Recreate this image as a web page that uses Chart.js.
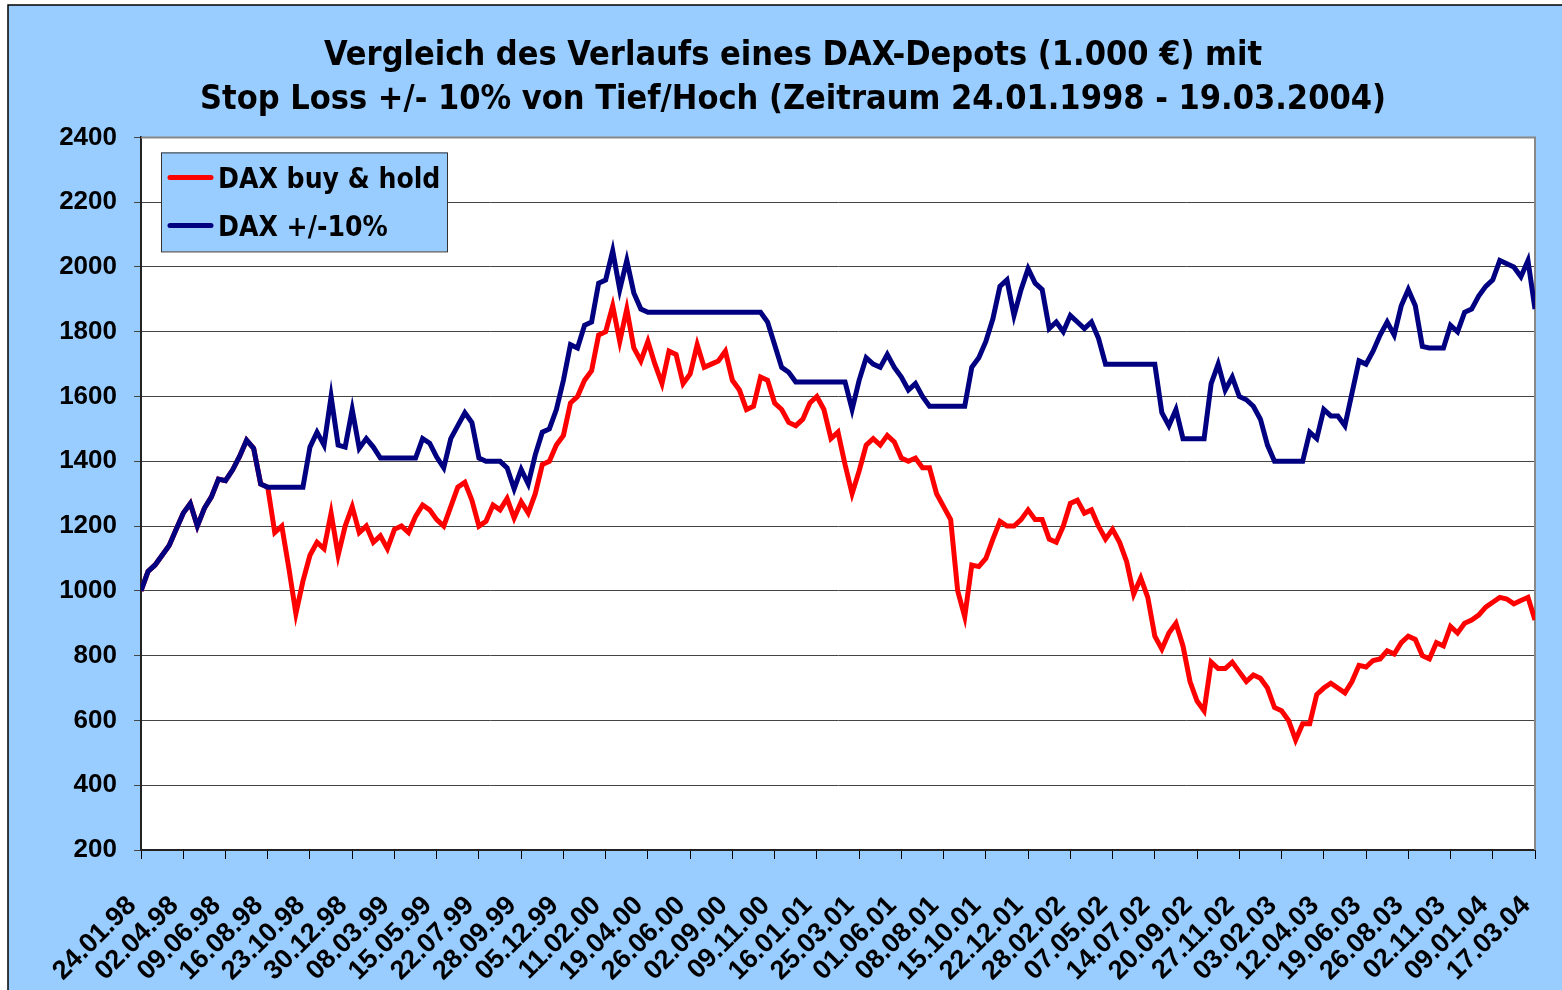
<!DOCTYPE html>
<html>
<head>
<meta charset="utf-8">
<script src="https://cdn.jsdelivr.net/npm/chart.js@4.4.0/dist/chart.umd.min.js"></script>
<style>
  html, body { margin: 0; padding: 0; background: #fff; }
</style>
</head>
<body>
<canvas id="dax-chart" width="1562" height="990"></canvas>
<script>
// one value roughly every 8 trading days, 6 values between two date labels
const POINTS_PER_LABEL = 6;

const tickLabels = [
    '24.01.98', '02.04.98', '09.06.98', '16.08.98', '23.10.98', '30.12.98',
    '08.03.99', '15.05.99', '22.07.99', '28.09.99', '05.12.99', '11.02.00',
    '19.04.00', '26.06.00', '02.09.00', '09.11.00', '16.01.01', '25.03.01',
    '01.06.01', '08.08.01', '15.10.01', '22.12.01', '28.02.02', '07.05.02',
    '14.07.02', '20.09.02', '27.11.02', '03.02.03', '12.04.03', '19.06.03',
    '26.08.03', '02.11.03', '09.01.04', '17.03.04'
];

const buyHold = [
    1000, 1060, 1080, 1110, 1140, 1190, 1240, 1270, 1200, 1255,
    1290, 1345, 1340, 1373, 1415, 1465, 1440, 1330, 1320, 1180,
    1200, 1070, 930, 1030, 1110, 1150, 1130, 1240, 1110, 1200,
    1260, 1180, 1200, 1150, 1170, 1130, 1190, 1200, 1180, 1230,
    1265, 1250, 1220, 1200, 1260, 1320, 1335, 1280, 1200, 1215,
    1265, 1250, 1285, 1225, 1275, 1240, 1300, 1390, 1400, 1450,
    1480, 1580, 1600, 1650, 1680, 1790, 1800, 1880, 1770, 1870,
    1750, 1710, 1770, 1700, 1640, 1740, 1730, 1640, 1670, 1760,
    1690, 1700, 1710, 1740, 1650, 1620, 1560, 1570, 1660, 1650,
    1580, 1560, 1520, 1510, 1530, 1580, 1600, 1560, 1470, 1490,
    1390, 1300, 1370, 1450, 1470, 1450, 1480, 1460, 1410, 1400,
    1410, 1380, 1380, 1300, 1260, 1220, 1000, 920, 1080, 1075,
    1100, 1160, 1215, 1200, 1200, 1220, 1250, 1220, 1220, 1160,
    1150, 1200, 1270, 1280, 1240, 1250, 1200, 1160, 1190, 1150,
    1090, 990, 1040, 980, 860, 820, 870, 900, 830, 720,
    660, 630, 780, 760, 760, 780, 750, 720, 740, 730,
    700, 640, 630, 600, 540, 590, 590, 680, 700, 715,
    700, 685, 720, 770, 765, 785, 790, 815, 805, 840,
    860, 850, 800, 790, 840, 830, 890, 870, 900, 910,
    925, 950, 965, 980, 975, 960, 970, 980, 910
];

const stopLoss = [
    1000, 1060, 1080, 1110, 1140, 1190, 1240, 1270, 1200, 1255,
    1290, 1345, 1340, 1373, 1415, 1465, 1440, 1330, 1320, 1320,
    1320, 1320, 1320, 1320, 1444, 1490, 1450, 1600, 1450, 1444,
    1560, 1440, 1470, 1444, 1410, 1410, 1410, 1410, 1410, 1410,
    1470, 1456, 1413, 1380, 1470, 1510, 1550, 1520, 1410, 1400,
    1400, 1400, 1380, 1315, 1375, 1330, 1420, 1490, 1500, 1560,
    1650, 1760, 1750, 1820, 1830, 1950, 1960, 2050, 1930, 2020,
    1920, 1870, 1860, 1860, 1860, 1860, 1860, 1860, 1860, 1860,
    1860, 1860, 1860, 1860, 1860, 1860, 1860, 1860, 1860, 1830,
    1760, 1690, 1675, 1645, 1645, 1645, 1645, 1645, 1645, 1645,
    1645, 1560, 1650, 1720, 1700, 1690, 1730, 1690, 1660, 1620,
    1640, 1600, 1570, 1570, 1570, 1570, 1570, 1570, 1690, 1720,
    1770, 1840, 1940, 1960, 1850, 1930, 1995, 1950, 1930, 1810,
    1830, 1800, 1850, 1830, 1810, 1830, 1780, 1700, 1700, 1700,
    1700, 1700, 1700, 1700, 1700, 1550, 1510, 1560, 1470, 1470,
    1470, 1470, 1640, 1700, 1620, 1660, 1600, 1590, 1570, 1530,
    1450, 1400, 1400, 1400, 1400, 1400, 1490, 1470, 1560, 1540,
    1540, 1510, 1610, 1710, 1700, 1740, 1790, 1830, 1790, 1880,
    1930, 1880, 1755, 1750, 1750, 1750, 1820, 1800, 1860, 1870,
    1910, 1940, 1960, 2020, 2010, 2000, 1970, 2020, 1870
];

const titleLines = [
    'Vergleich des Verlaufs eines DAX-Depots (1.000 €) mit',
    'Stop Loss +/- 10% von Tief/Hoch (Zeitraum 24.01.1998 - 19.03.2004)'
];

const BG_BLUE = '#99CCFF';
const TITLE_FONT = '"DejaVu Sans Condensed", "DejaVu Sans", sans-serif';
const TICK_FONT = '"Liberation Sans", Arial, sans-serif';

function toPoints(values) {
    return values.map((v, i) => ({x: i, y: v}));
}

// light blue frame behind everything, white plot area
const backgroundPlugin = {
    id: 'background',
    beforeDraw(chart) {
        const {ctx, width, height, chartArea} = chart;
        ctx.save();
        ctx.fillStyle = '#fff';
        ctx.fillRect(0, 0, width, height);
        ctx.fillStyle = BG_BLUE;
        ctx.fillRect(8, 5, width, height);
        ctx.strokeStyle = '#000';
        ctx.lineWidth = 1.5;
        ctx.beginPath();
        ctx.moveTo(8, height);
        ctx.lineTo(8, 5);
        ctx.lineTo(width, 5);
        ctx.stroke();
        ctx.fillStyle = '#fff';
        ctx.fillRect(chartArea.left, chartArea.top, chartArea.width, chartArea.height);
        ctx.restore();
    },
    beforeDatasetsDraw(chart) {
        const {ctx, chartArea} = chart;
        ctx.save();
        ctx.strokeStyle = '#888';
        ctx.lineWidth = 2;
        ctx.beginPath();
        ctx.moveTo(chartArea.left, chartArea.top);
        ctx.lineTo(chartArea.right, chartArea.top);
        ctx.lineTo(chartArea.right, chartArea.bottom);
        ctx.stroke();
        ctx.restore();
    }
};

// boxed legend in the upper left corner of the plot
const legendBoxPlugin = {
    id: 'legendBox',
    afterDraw(chart) {
        const {ctx, chartArea} = chart;
        const x = chartArea.left + 20;
        const y = chartArea.top + 15;
        ctx.save();
        ctx.fillStyle = BG_BLUE;
        ctx.fillRect(x, y, 286, 99);
        ctx.strokeStyle = '#333';
        ctx.lineWidth = 1;
        ctx.strokeRect(x + 0.5, y + 0.5, 286, 99);
        ctx.font = 'bold 28px ' + TITLE_FONT;
        ctx.textBaseline = 'middle';
        ctx.lineCap = 'round';
        chart.data.datasets.forEach((ds, i) => {
            const rowY = y + 25 + i * 48;
            ctx.strokeStyle = ds.borderColor;
            ctx.lineWidth = 5;
            ctx.beginPath();
            ctx.moveTo(x + 9, rowY);
            ctx.lineTo(x + 50, rowY);
            ctx.stroke();
            ctx.fillStyle = '#000';
            ctx.fillText(ds.label, x + 57, rowY + 3);
        });
        ctx.restore();
    }
};

const ctx = document.getElementById('dax-chart').getContext('2d');
const daxChart = new Chart(ctx, {
    type: 'line',
    data: {
        datasets: [{
            label: 'DAX buy & hold',
            data: toPoints(buyHold),
            borderColor: '#FF0000',
            borderWidth: 5,
            pointRadius: 0,
            order: 2
        }, {
            label: 'DAX +/-10%',
            data: toPoints(stopLoss),
            borderColor: '#000080',
            borderWidth: 5,
            pointRadius: 0,
            order: 1
        }]
    },
    options: {
        responsive: false,
        animation: false,
        devicePixelRatio: 1,
        layout: {
            padding: {left: 51, right: 27, top: 0, bottom: 0}
        },
        plugins: {
            legend: {display: false},
            tooltip: {enabled: false},
            title: {
                display: true,
                text: titleLines,
                color: '#000',
                font: {family: TITLE_FONT, size: 34, weight: 'bold', lineHeight: 1.3},
                padding: {top: 34, bottom: 15}
            }
        },
        scales: {
            x: {
                type: 'linear',
                min: 0,
                max: (tickLabels.length - 1) * POINTS_PER_LABEL,
                afterFit(scale) {
                    scale.height = 140;
                    scale.paddingLeft = 0;
                    scale.paddingRight = 0;
                },
                ticks: {
                    stepSize: POINTS_PER_LABEL,
                    autoSkip: false,
                    minRotation: 45,
                    maxRotation: 45,
                    padding: 31,
                    labelOffset: -9,
                    color: '#000',
                    font: {family: TICK_FONT, size: 27, weight: 'bold'},
                    callback: (value) => tickLabels[Math.round(value / POINTS_PER_LABEL)]
                },
                grid: {drawOnChartArea: false, tickLength: 9, color: '#000'},
                border: {color: '#222', width: 2}
            },
            y: {
                min: 200,
                max: 2400,
                afterFit(scale) {
                    scale.width = 90;
                },
                ticks: {
                    stepSize: 200,
                    padding: 17,
                    color: '#000',
                    font: {family: TICK_FONT, size: 26, weight: 'bold'},
                    callback: (value) => String(value)
                },
                grid: {color: '#444', lineWidth: 1, tickLength: 7},
                border: {color: '#222', width: 2}
            }
        }
    },
    plugins: [backgroundPlugin, legendBoxPlugin]
});
</script>
</body>
</html>
